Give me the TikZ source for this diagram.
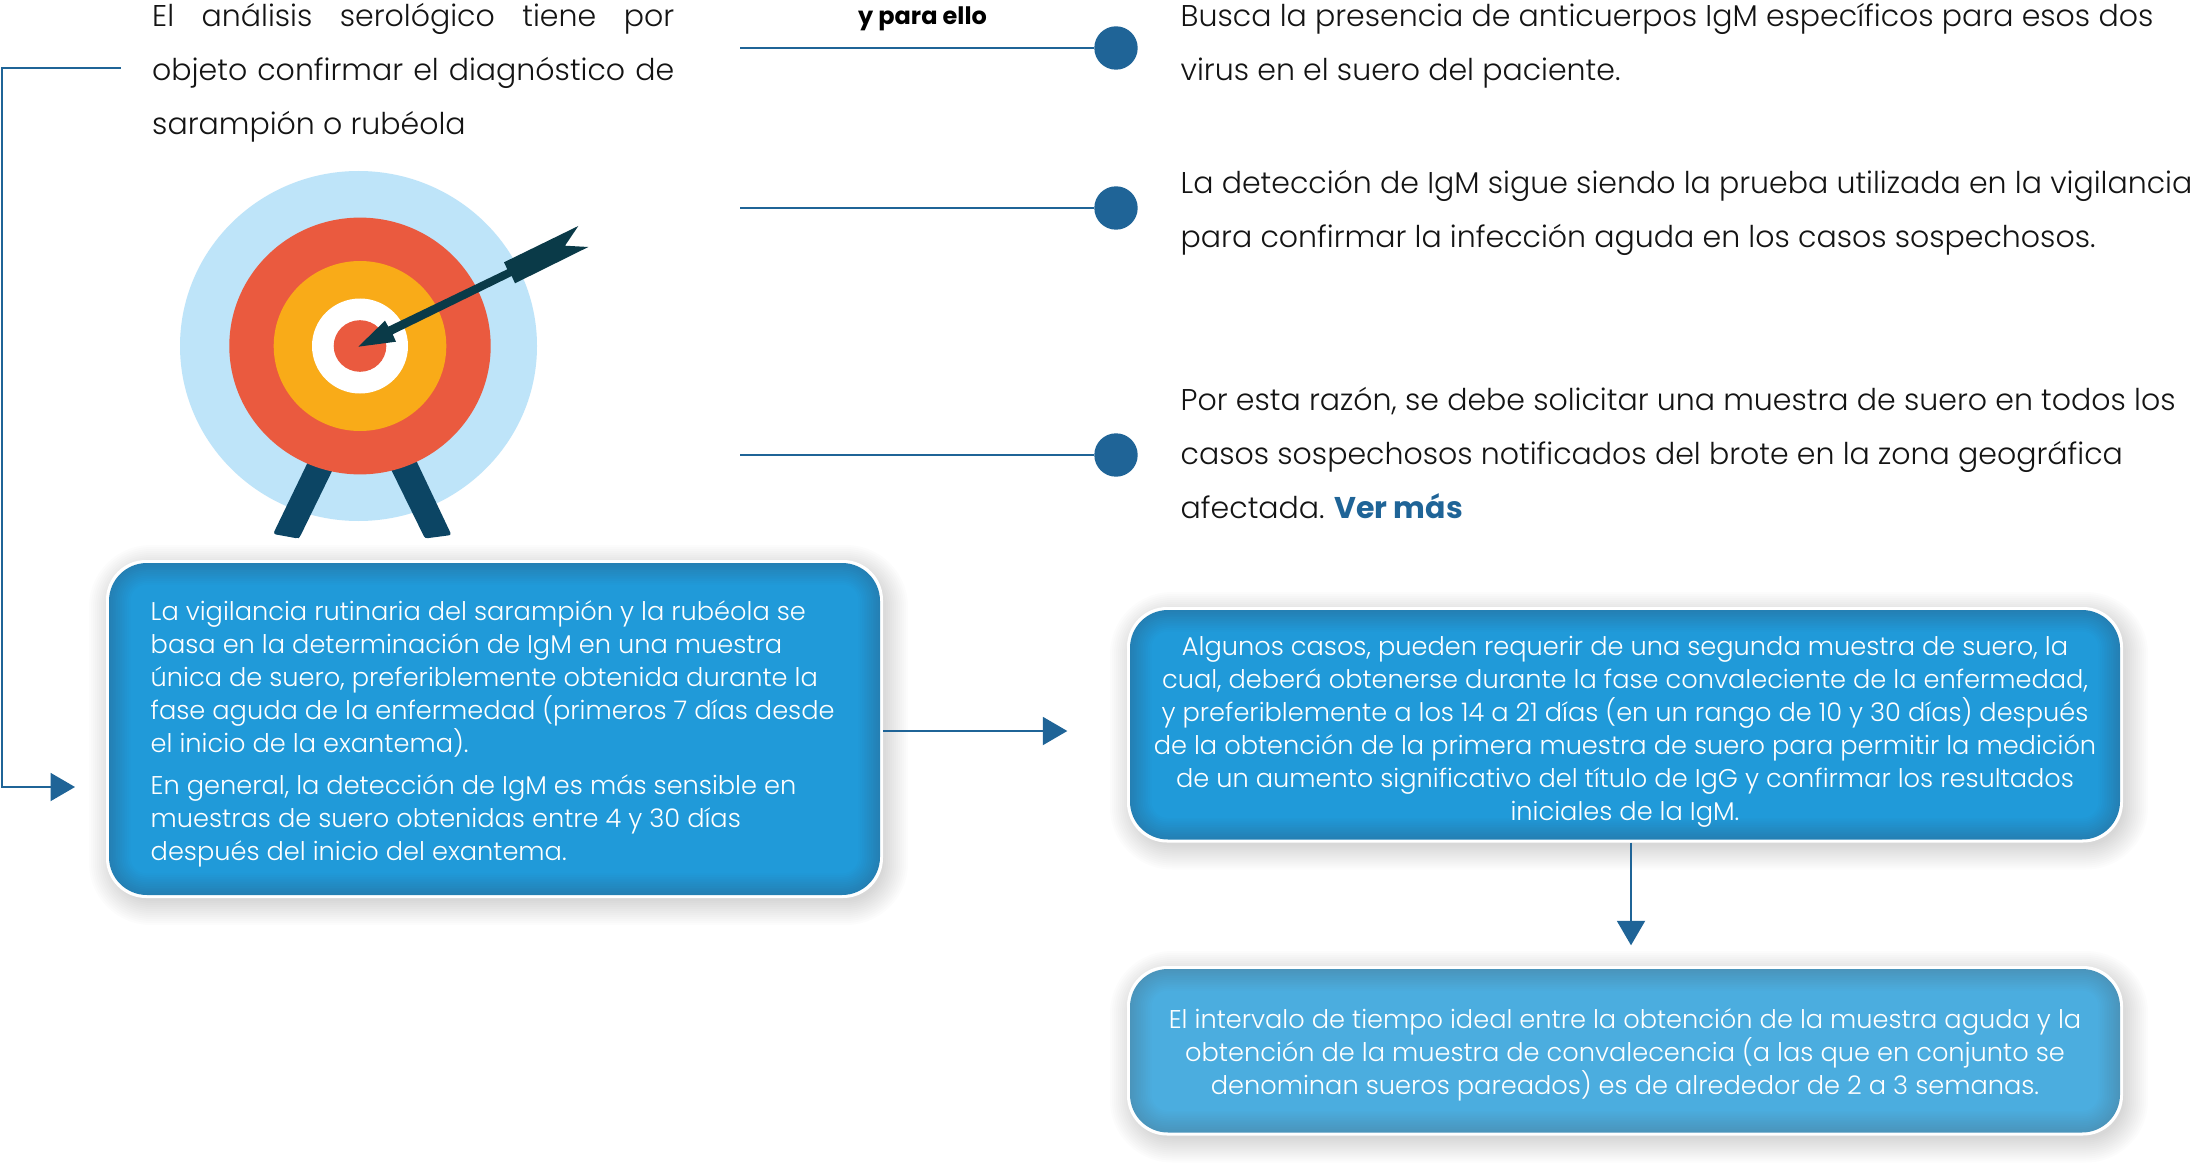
\documentclass[tikz,border=0pt]{standalone}
\usepackage{fontspec}
\setmainfont{Poppins}[UprightFont={* Light},BoldFont={* Bold}]
\usetikzlibrary{arrows.meta}
\definecolor{navy}{HTML}{1F6497}
\definecolor{boxA}{HTML}{209AD9}
\definecolor{boxAedge}{HTML}{2480B4}
\definecolor{boxB}{HTML}{4BADDF}
\definecolor{boxBedge}{HTML}{4A95BC}
\definecolor{ringblue}{HTML}{BEE4F9}
\definecolor{ringred}{HTML}{EA5A3F}
\definecolor{ringorange}{HTML}{F9AB18}
\definecolor{legblue}{HTML}{0C4564}
\definecolor{arrowdark}{HTML}{0A3A48}
\tikzset{
  conn/.style={draw=navy,line width=2pt},
  tipped/.style={conn,-{Triangle[width=28pt,length=24.5pt,fill=navy]}},
  dotmark/.style={circle,fill=navy,minimum size=43.4pt,inner sep=0pt},
  bigtext/.style={font=\fontsize{30}{54}\selectfont,text=black!92,inner sep=0pt,align=left},
  boxtext/.style={font=\fontsize{25.65}{33}\selectfont,text=white,inner sep=0pt},
  boxshape/.style={rectangle,inner sep=0pt}
}
\newcommand{\softbox}[7]{%
  \foreach \i in {0,...,12}{%
    \pgfmathsetmacro{\o}{24-2*\i}%
    \pgfmathsetmacro{\r}{38+\o}%
    \fill[black,opacity=.012,rounded corners=\r pt]
      ({#2-\o+4},{#3-\o+6}) rectangle ({#4+\o+4},{#5+\o+6});
  }%
  \fill[white,rounded corners=40pt] ({#2-3},{#3-3}) rectangle ({#4+3},{#5+3});
  \foreach \i in {0,...,12}{%
    \pgfmathsetmacro{\o}{1.8*\i}%
    \pgfmathsetmacro{\r}{max(38-\o,12)}%
    \pgfmathsetmacro{\t}{\i/12*100}%
    \fill[{#7!\t!#6},rounded corners=\r pt]
      ({#2+\o},{#3+\o}) rectangle ({#4-\o},{#5-\o});
  }%
  \node[boxshape,minimum width={(#4-#2)*1pt},minimum height={(#5-#3)*1pt}] (#1) at ({(#2+#4)/2},{(#3+#5)/2}) {};
}
\begin{document}
\begin{tikzpicture}[x=1pt,y=-1pt]
\useasboundingbox (0,0) rectangle (2203,1174);
\fill[white] (0,0) rectangle (2203,1174);

% target
\fill[ringblue] (358.5,346) ellipse [x radius=178.5,y radius=175];
\fill[legblue,rounded corners=2.5pt] (311.3,455) -- (335,465) -- (300,536.7) -- (298,538.5) -- (273.3,534) -- (275,530) -- cycle;
\fill[legblue,rounded corners=2.5pt] (413.6,455) -- (388.9,465) -- (425,538.5) -- (451.5,535) -- cycle;
\fill[ringred] (360,346) ellipse [x radius=130.7,y radius=128.4];
\fill[ringorange] (360,346) ellipse [x radius=86.3,y radius=85];
\fill[white] (360,346) ellipse [x radius=48,y radius=47.5];
\fill[ringred] (360,346) ellipse [x radius=26.3,y radius=25.8];
\fill[arrowdark] (358.3,346.7) -- (385,320.7) -- (388.3,326.7) -- (507.3,269.3) -- (504,262.3) -- (578.3,226) -- (565,245.7) -- (588.3,247) -- (515,283.3) -- (511.7,276) -- (392.7,334.3) -- (396,341.7) -- cycle;

% boxes
\softbox{lb}{109}{563}{880}{895}{boxAedge}{boxA}
\softbox{rb}{1130}{610}{2120}{839.5}{boxAedge}{boxA}
\softbox{bb}{1130}{969}{2120}{1132.5}{boxBedge}{boxB}

% top texts
\node[bigtext,anchor=base west] (goal) at (152,135) {\makebox[522pt][s]{El análisis serológico tiene por}\\\makebox[522pt][s]{objeto confirmar el diagnóstico de}\\sarampión o rubéola};
\node[font=\fontsize{24}{28}\bfseries\selectfont,text=black,inner sep=0pt,anchor=base] (ypara) at (922.5,25) {y para ello};
\node[bigtext,anchor=base west] (t1) at (1180.5,81) {Busca la presencia de anticuerpos IgM específicos para esos dos\\virus en el suero del paciente.};
\node[bigtext,anchor=base west] (t2) at (1180.5,248) {La detección de IgM sigue siendo la prueba utilizada en la vigilancia\\para confirmar la infección aguda en los casos sospechosos.};
\node[bigtext,anchor=base west] (t3) at (1180.5,518) {Por esta razón, se debe solicitar una muestra de suero en todos los\\casos sospechosos notificados del brote en la zona geográfica\\{\spaceskip=7pt\relax afectada. }\textcolor{navy}{\textbf{Ver más}}};

% box texts
\node[boxtext,align=left,anchor=base west] (lbt) at (150.5,860.7) {La vigilancia rutinaria del sarampión y la rubéola se\\basa en la determinación de IgM en una muestra\\única de suero, preferiblemente obtenida durante la\\fase aguda de la enfermedad (primeros 7 días desde\\el inicio de la exantema).\\[9pt]En general, la detección de IgM es más sensible en\\muestras de suero obtenidas entre 4 y 30 días\\después del inicio del exantema.};
\node[boxtext,align=center,anchor=base] (rbt) at (1625,820.7) {Algunos casos, pueden requerir de una segunda muestra de suero, la\\cual, deberá obtenerse durante la fase convaleciente de la enfermedad,\\y preferiblemente a los 14 a 21 días (en un rango de 10 y 30 días) después\\de la obtención de la primera muestra de suero para permitir la medición\\de un aumento significativo del título de IgG y confirmar los resultados\\iniciales de la IgM.};
\node[boxtext,align=center,anchor=base] (bbt) at (1625,1094) {El intervalo de tiempo ideal entre la obtención de la muestra aguda y la\\obtención de la muestra de convalecencia (a las que en conjunto se\\denominan sueros pareados) es de alrededor de 2 a 3 semanas.};

% dots
\node[dotmark] (dot1) at (1116,48) {};
\node[dotmark] (dot2) at (1116,208) {};
\node[dotmark] (dot3) at (1116,455) {};
\coordinate (s1) at (740,48);
\coordinate (s2) at (740,208);
\coordinate (s3) at (740,455);
\draw[conn] (s1) -- (dot1);
\draw[conn] (s2) -- (dot2);
\draw[conn] (s3) -- (dot3);

% connectors
\coordinate (es) at (120.7,68.3);
\coordinate (ec) at (1.5,68.3);
\coordinate (et) at (75,787);
\draw[tipped] (es) -- (ec) |- (et);
\coordinate (a2) at (1067.3,731);
\draw[tipped] (lb.east |- a2) ++(3,0) -- (a2);
\coordinate (a3) at (1631,945.3);
\draw[tipped] (rb.south -| a3) ++(0,3) -- (a3);
\end{tikzpicture}
\end{document}
